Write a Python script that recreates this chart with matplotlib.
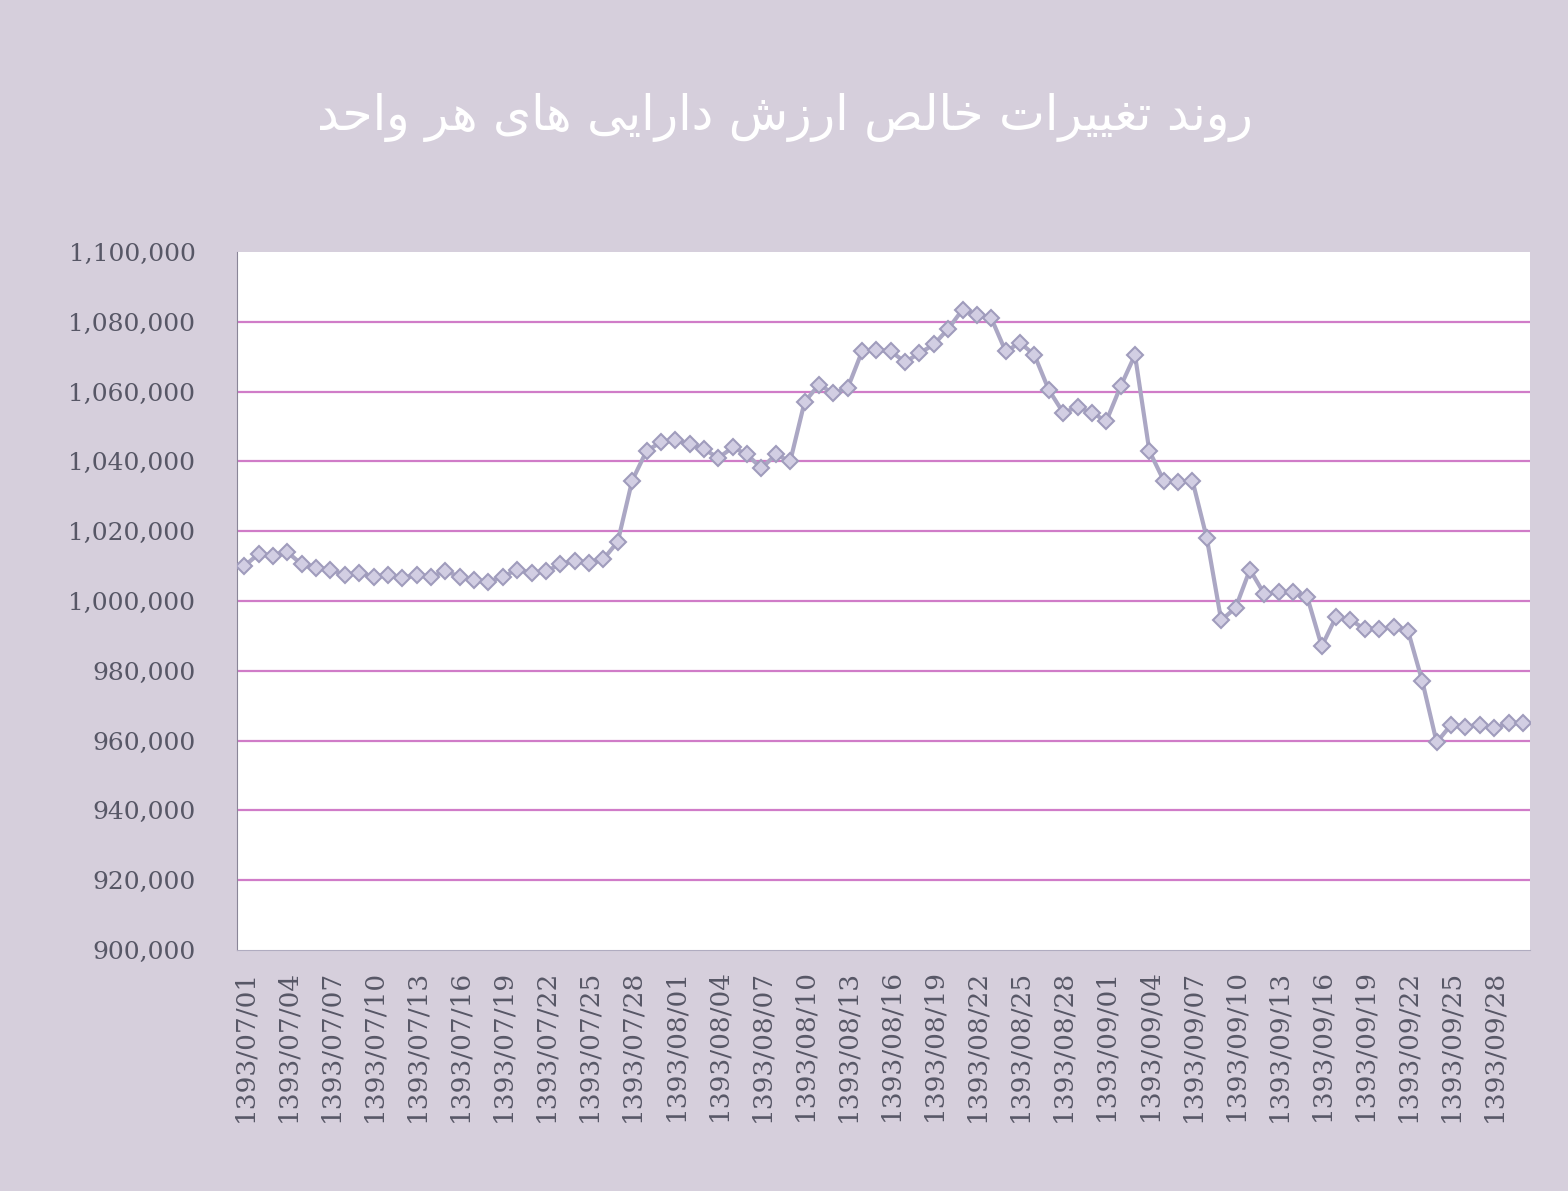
import matplotlib.pyplot as plt
from matplotlib.ticker import FuncFormatter

# daily dates 1393/07/01 .. 1393/09/30 (persian months of 30 days)
dates = ['1393/%02d/%02d' % (m, d) for m in (7, 8, 9) for d in range(1, 31)]

# net asset value per unit (rials)
nav = [1010000, 1013500, 1013000, 1014000, 1010500, 1009500, 1009000, 1007500, 1008000, 1007000,
       1007500, 1006500, 1007500, 1007000, 1008500, 1007000, 1006000, 1005500, 1007000, 1009000,
       1008000, 1008500, 1010500, 1011500, 1011000, 1012000, 1017000, 1034500, 1043000, 1045500,
       1046000, 1045000, 1043500, 1041000, 1044000, 1042000, 1038000, 1042000, 1040000, 1057000,
       1062000, 1059500, 1061000, 1071500, 1072000, 1071500, 1068500, 1071000, 1073500, 1078000,
       1083500, 1082000, 1081000, 1071500, 1074000, 1070500, 1060500, 1054000, 1055500, 1054000,
       1051500, 1061500, 1070500, 1043000, 1034500, 1034000, 1034500, 1018000, 994500, 998000,
       1009000, 1002000, 1002500, 1002500, 1001000, 987000, 995500, 994500, 992000, 992000,
       992500, 991500, 977000, 959500, 964500, 964000, 964500, 963500, 965000, 965000]

title_words = ['روند', 'تغییرات', 'خالص', 'ارزش', 'دارایی', 'های', 'هر', 'واحد']

# presentation forms: isolated, final, initial, medial
FORMS = {
    'ا': ('\uFE8D', '\uFE8E', None, None),
    'ت': ('\uFE95', '\uFE96', '\uFE97', '\uFE98'),
    'ح': ('\uFEA1', '\uFEA2', '\uFEA3', '\uFEA4'),
    'خ': ('\uFEA5', '\uFEA6', '\uFEA7', '\uFEA8'),
    'د': ('\uFEA9', '\uFEAA', None, None),
    'ر': ('\uFEAD', '\uFEAE', None, None),
    'ز': ('\uFEAF', '\uFEB0', None, None),
    'ش': ('\uFEB5', '\uFEB6', '\uFEB7', '\uFEB8'),
    'ص': ('\uFEB9', '\uFEBA', '\uFEBB', '\uFEBC'),
    'غ': ('\uFECD', '\uFECE', '\uFECF', '\uFED0'),
    'ل': ('\uFEDD', '\uFEDE', '\uFEDF', '\uFEE0'),
    'ن': ('\uFEE5', '\uFEE6', '\uFEE7', '\uFEE8'),
    'ه': ('\uFEE9', '\uFEEA', '\uFEEB', '\uFEEC'),
    'و': ('\uFEED', '\uFEEE', None, None),
    'ی': ('\uFEEF', '\uFEF0', '\uFEF3', '\uFEF4'),
}


def shape(word):
    out = []
    n = len(word)
    for k, ch in enumerate(word):
        iso, fin, ini, med = FORMS[ch]
        prev_j = k > 0 and FORMS[word[k - 1]][2] is not None
        next_j = k < n - 1 and ini is not None
        if prev_j and next_j:
            out.append(med)
        elif prev_j:
            out.append(fin)
        elif next_j:
            out.append(ini)
        else:
            out.append(iso)
    return ''.join(reversed(out))


title = ' '.join(shape(w) for w in reversed(title_words))

fig = plt.figure(figsize=(15.68, 11.91), dpi=100)
fig.patch.set_facecolor('#d6cfdc')
ax = fig.add_axes([0.1512, 0.2024, 0.8246, 0.586])
ax.set_facecolor('white')

x = list(range(len(nav)))
ax.plot(x, nav, color='#aba7c4', lw=3, marker='D', markersize=8,
        markerfacecolor='#d2cee3', markeredgecolor='#a09cbc', markeredgewidth=1.5, zorder=3)

yticks = list(range(900000, 1100001, 20000))
ax.set_ylim(900000, 1100000)
ax.set_yticks(yticks)
ax.yaxis.set_major_formatter(FuncFormatter(lambda v, p: '{:,.0f}'.format(v)))
ax.set_xlim(-0.5, len(nav) - 0.5)
ax.set_xticks(x[::3])
ax.set_xticklabels(dates[::3], rotation=90)

# gridlines between the bottom axis and the (open) top edge
for v in yticks[1:-1]:
    ax.axhline(v, color='#d07cc8', lw=1.6, zorder=0)

for s in ['top', 'right']:
    ax.spines[s].set_visible(False)
ax.spines['left'].set_color('#8a8698')
ax.spines['bottom'].set_color('#b0acc0')

ax.tick_params(axis='y', length=0, pad=30, labelsize=18, labelcolor='#575766')
ax.tick_params(axis='x', length=0, pad=14, labelsize=19, labelcolor='#575766')
for lab in ax.get_xticklabels() + ax.get_yticklabels():
    lab.set_family('DejaVu Serif')

fig.text(0.5006, 0.901, title, ha='center', va='center', fontsize=35,
         color='white', family=['DejaVu Sans'])

plt.savefig('out.png', dpi=100, facecolor=fig.get_facecolor())
